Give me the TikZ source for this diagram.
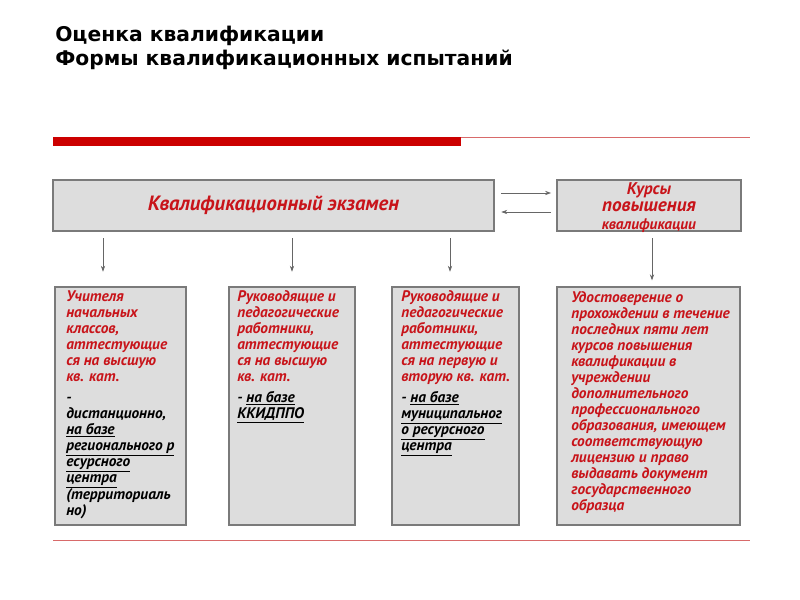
\documentclass[tikz,border=0pt]{standalone}
\usepackage{fontspec}
\setmainfont{PT Sans}
\newfontfamily\titlefont{DejaVu Sans}
\newfontfamily\boxfont{PT Sans}
\usetikzlibrary{arrows.meta,fit,positioning}

\definecolor{barred}{HTML}{CC0000}
\definecolor{txtred}{HTML}{C8141A}
\definecolor{boxgray}{HTML}{DDDDDD}
\definecolor{edgegray}{HTML}{7A7A7A}
\definecolor{linered}{HTML}{D86A6A}

\tikzset{
  box/.style={draw=edgegray, fill=boxgray, line width=0.9pt, inner sep=0pt},
  boxtext/.style={anchor=north west, align=left, inner sep=0pt, text=txtred,
    font=\boxfont\bfseries\itshape\fontsize{11.5}{12}\selectfont},
  basetext/.style={boxtext, text=black, below=3pt of #1.south west, anchor=north west},
  arr/.style={draw=black!60, line width=0.5pt, -{Stealth[length=4.5pt,width=3.2pt]}},
}

\begin{document}
\begin{tikzpicture}[x=0.75pt,y=-0.75pt]
    \useasboundingbox (0,0) rectangle (800,600);
    % heading
    \node[anchor=base west, inner sep=0pt, font=\titlefont\bfseries\fontsize{15.2}{18}\selectfont] (title1) at (55,41.5) {Оценка квалификации};
    \node[anchor=base west, inner sep=0pt, font=\titlefont\bfseries\fontsize{15.2}{18}\selectfont] (title2) at (55,65.5) {Формы квалификационных испытаний};
    % red rule
    \fill[barred] (53,137) rectangle (461,146);
    \draw[linered, line width=0.7pt] (461,137.5) -- (750,137.5);

    % top row
    \node[box, fit={(53,180) (494,231)}] (exam) {};
    \node[box, fit={(557,180) (741,231)}] (course) {};
    \node[text=txtred, font=\boxfont\bfseries\itshape\fontsize{15.5}{16}\selectfont] (examlbl) at (exam.center) {Квалификационный экзамен};
    \node[text=txtred, align=center, inner sep=0pt, font=\boxfont\bfseries\itshape] (courselbl) at ([yshift=-1.5pt]course.center)
      {\fontsize{12.7}{13}\selectfont Курсы\\[1pt] \fontsize{14.4}{13}\selectfont повышения\\[1pt] \fontsize{11.5}{13}\selectfont квалификации};

    % arrows between top boxes
    \coordinate (r1) at (0,193);
    \coordinate (r2) at (0,212);
    \draw[arr, shorten <=5pt, shorten >=4pt] (exam.east |- r1) -- (course.west |- r1);
    \draw[arr, shorten <=4pt, shorten >=5pt] (course.west |- r2) -- (exam.east |- r2);

    % bottom row
    \node[box, fit={(55,287) (186,525)}] (teach) {};
    \node[box, fit={(229,287) (355,525)}] (heads) {};
    \node[box, fit={(392,287) (519,525)}] (staff) {};
    \node[box, fit={(557,287) (740,525)}] (cert) {};

    \node[boxtext] (teachtxt) at (66,290)
      {\strut Учителя\\ начальных\\ классов,\\ аттестующие\\ ся на высшую\\ кв. кат.\strut};
    \node[basetext=teachtxt] (teachbase)
      {\strut -\\ дистанционно,\\ \underline{на базе}\\ \underline{регионального р}\\ \underline{есурсного}\\ \underline{центра}\\ (территориаль\\ но)};
    \node[boxtext] (headstxt) at (237,290)
      {\strut Руководящие и\\ педагогические\\ работники,\\ аттестующие\\ ся на высшую\\ кв. кат.\strut};
    \node[basetext=headstxt] (headsbase)
      {\strut - \underline{на базе}\\ \underline{ККИДППО}};
    \node[boxtext] (stafftxt) at (401,290)
      {\strut Руководящие и\\ педагогические\\ работники,\\ аттестующие\\ ся на первую и\\ вторую кв. кат.\strut};
    \node[basetext=stafftxt] (staffbase)
      {\strut - \underline{на базе}\\ \underline{муниципальног}\\ \underline{о ресурсного}\\ \underline{центра}};
    \node[boxtext] (certtxt) at (571,291)
      {\strut Удостоверение о\\ прохождении в течение\\ последних пяти лет\\ курсов повышения\\ квалификации в\\ учреждении\\ дополнительного\\ профессионального\\ образования, имеющем\\ соответствующую\\ лицензию и право\\ выдавать документ\\ государственного\\ образца};

    % arrows down
    \coordinate (a1) at (103,0);
    \coordinate (a2) at (292,0);
    \coordinate (a3) at (450,0);
    \coordinate (a4) at (652,0);
    \draw[arr, shorten <=5pt, shorten >=11pt] (exam.south -| a1) -- (teach.north -| a1);
    \draw[arr, shorten <=5pt, shorten >=11pt] (exam.south -| a2) -- (heads.north -| a2);
    \draw[arr, shorten <=5pt, shorten >=11pt] (exam.south -| a3) -- (staff.north -| a3);
    \draw[arr, shorten <=5pt, shorten >=4.5pt] (course.south -| a4) -- (cert.north -| a4);

    % bottom rule
    \draw[linered, line width=0.7pt] (53,540) -- (750,540);
\end{tikzpicture}
\end{document}
